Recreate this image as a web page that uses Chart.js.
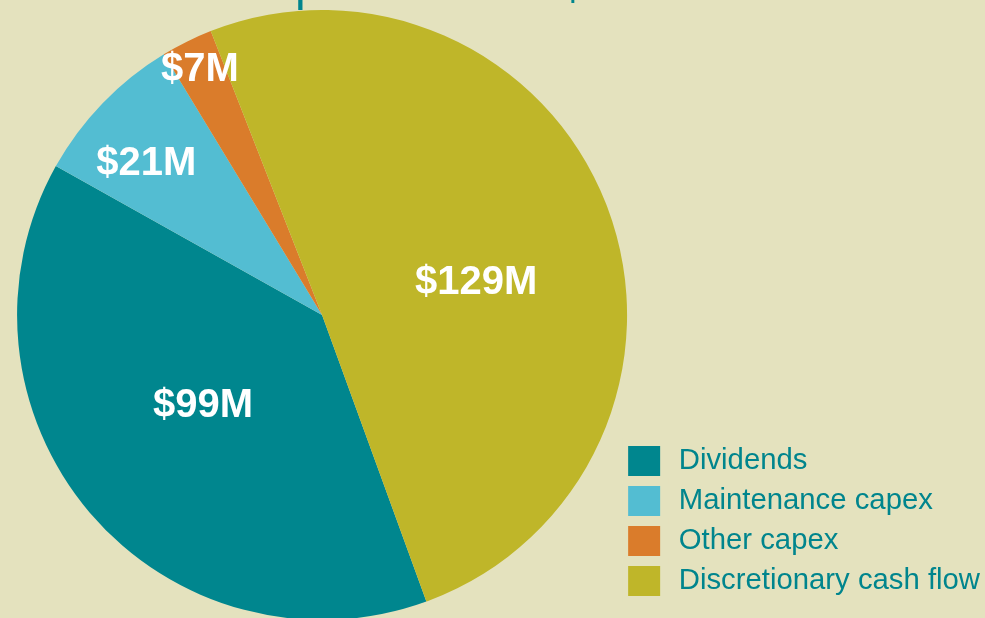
<!DOCTYPE html>
<html>
<head>
<meta charset="utf-8">
<script src="https://cdn.jsdelivr.net/npm/chart.js@4/dist/chart.umd.min.js"></script>
<style>
  html, body { margin: 0; padding: 0; background: #E4E2BE; overflow: hidden; }
  #wrap { position: relative; width: 990px; height: 618px; }
  #chartBox { position: absolute; left: 0; top: 0; width: 990px; height: 618px; }
</style>
</head>
<body>
<div id="wrap">
  <div id="chartBox"><canvas id="c"></canvas></div>
</div>
<script>
const categories = ['Dividends', 'Maintenance capex', 'Other capex', 'Discretionary cash flow'];
const values = [99, 21, 7, 129];
const valueLabels = ['$99M', '$21M', '$7M', '$129M'];
const titleText = 'Cash flow from operations of $256M';

const sliceColors = ['#00868E', '#53BDD2', '#DA7C2B', '#BFB629'];
const bgColor = '#E4E2BE';
const textTeal = '#00858D';

// label placement: fraction of radius and angular offset (deg) per slice
const labelFrac = [0.487, 0.765, 0.903, 0.517];
const labelOff = [3.6, -2.9, 0, 8.3];

// title is cropped at the top edge of the picture: only its lowest pixels show
const titlePlugin = {
  id: 'croppedTitle',
  beforeDatasetsDraw(chart) {
    const ctx = chart.ctx;
    ctx.save();
    ctx.fillStyle = textTeal;
    ctx.font = '48px "Liberation Sans", Arial, sans-serif';
    ctx.textAlign = 'left';
    ctx.textBaseline = 'alphabetic';
    ctx.fillText(titleText, -65, 0);
    ctx.restore();
  }
};

const labelPlugin = {
  id: 'sliceLabels',
  afterDatasetsDraw(chart) {
    const ctx = chart.ctx;
    const meta = chart.getDatasetMeta(0);
    ctx.save();
    ctx.fillStyle = '#FFFFFF';
    ctx.font = 'bold 40px "Liberation Sans", Arial, sans-serif';
    ctx.textAlign = 'center';
    ctx.textBaseline = 'middle';
    meta.data.forEach((arc, i) => {
      const p = arc.getProps(['x', 'y', 'startAngle', 'endAngle', 'outerRadius'], true);
      const mid = (p.startAngle + p.endAngle) / 2 + labelOff[i] * Math.PI / 180;
      const r = p.outerRadius * labelFrac[i];
      ctx.fillText(valueLabels[i], p.x + r * Math.cos(mid), p.y + r * Math.sin(mid) + 2);
    });
    ctx.restore();
  }
};

const baseGen = Chart.overrides.pie.plugins.legend.labels.generateLabels;

new Chart(document.getElementById('c'), {
  type: 'pie',
  data: {
    labels: categories,
    datasets: [{
      data: values,
      backgroundColor: sliceColors,
      borderWidth: 0,
      radius: 305,
      clip: false
    }]
  },
  options: {
    responsive: true,
    maintainAspectRatio: false,
    devicePixelRatio: 1,
    animation: false,
    rotation: 160,
    layout: { padding: { left: 22, right: 0, top: 28, bottom: 16 } },
    plugins: {
      tooltip: { enabled: false },
      legend: {
        position: 'right',
        align: 'end',
        labels: {
          boxWidth: 40,
          boxHeight: 38,
          padding: 2,
          color: textTeal,
          font: { family: '"Liberation Sans", Arial, sans-serif', size: 29.3 },
          generateLabels(chart) {
            return baseGen(chart).map(item => Object.assign(item, {
              strokeStyle: bgColor,
              lineWidth: 8
            }));
          }
        }
      }
    }
  },
  plugins: [titlePlugin, labelPlugin]
});
</script>
</body>
</html>
